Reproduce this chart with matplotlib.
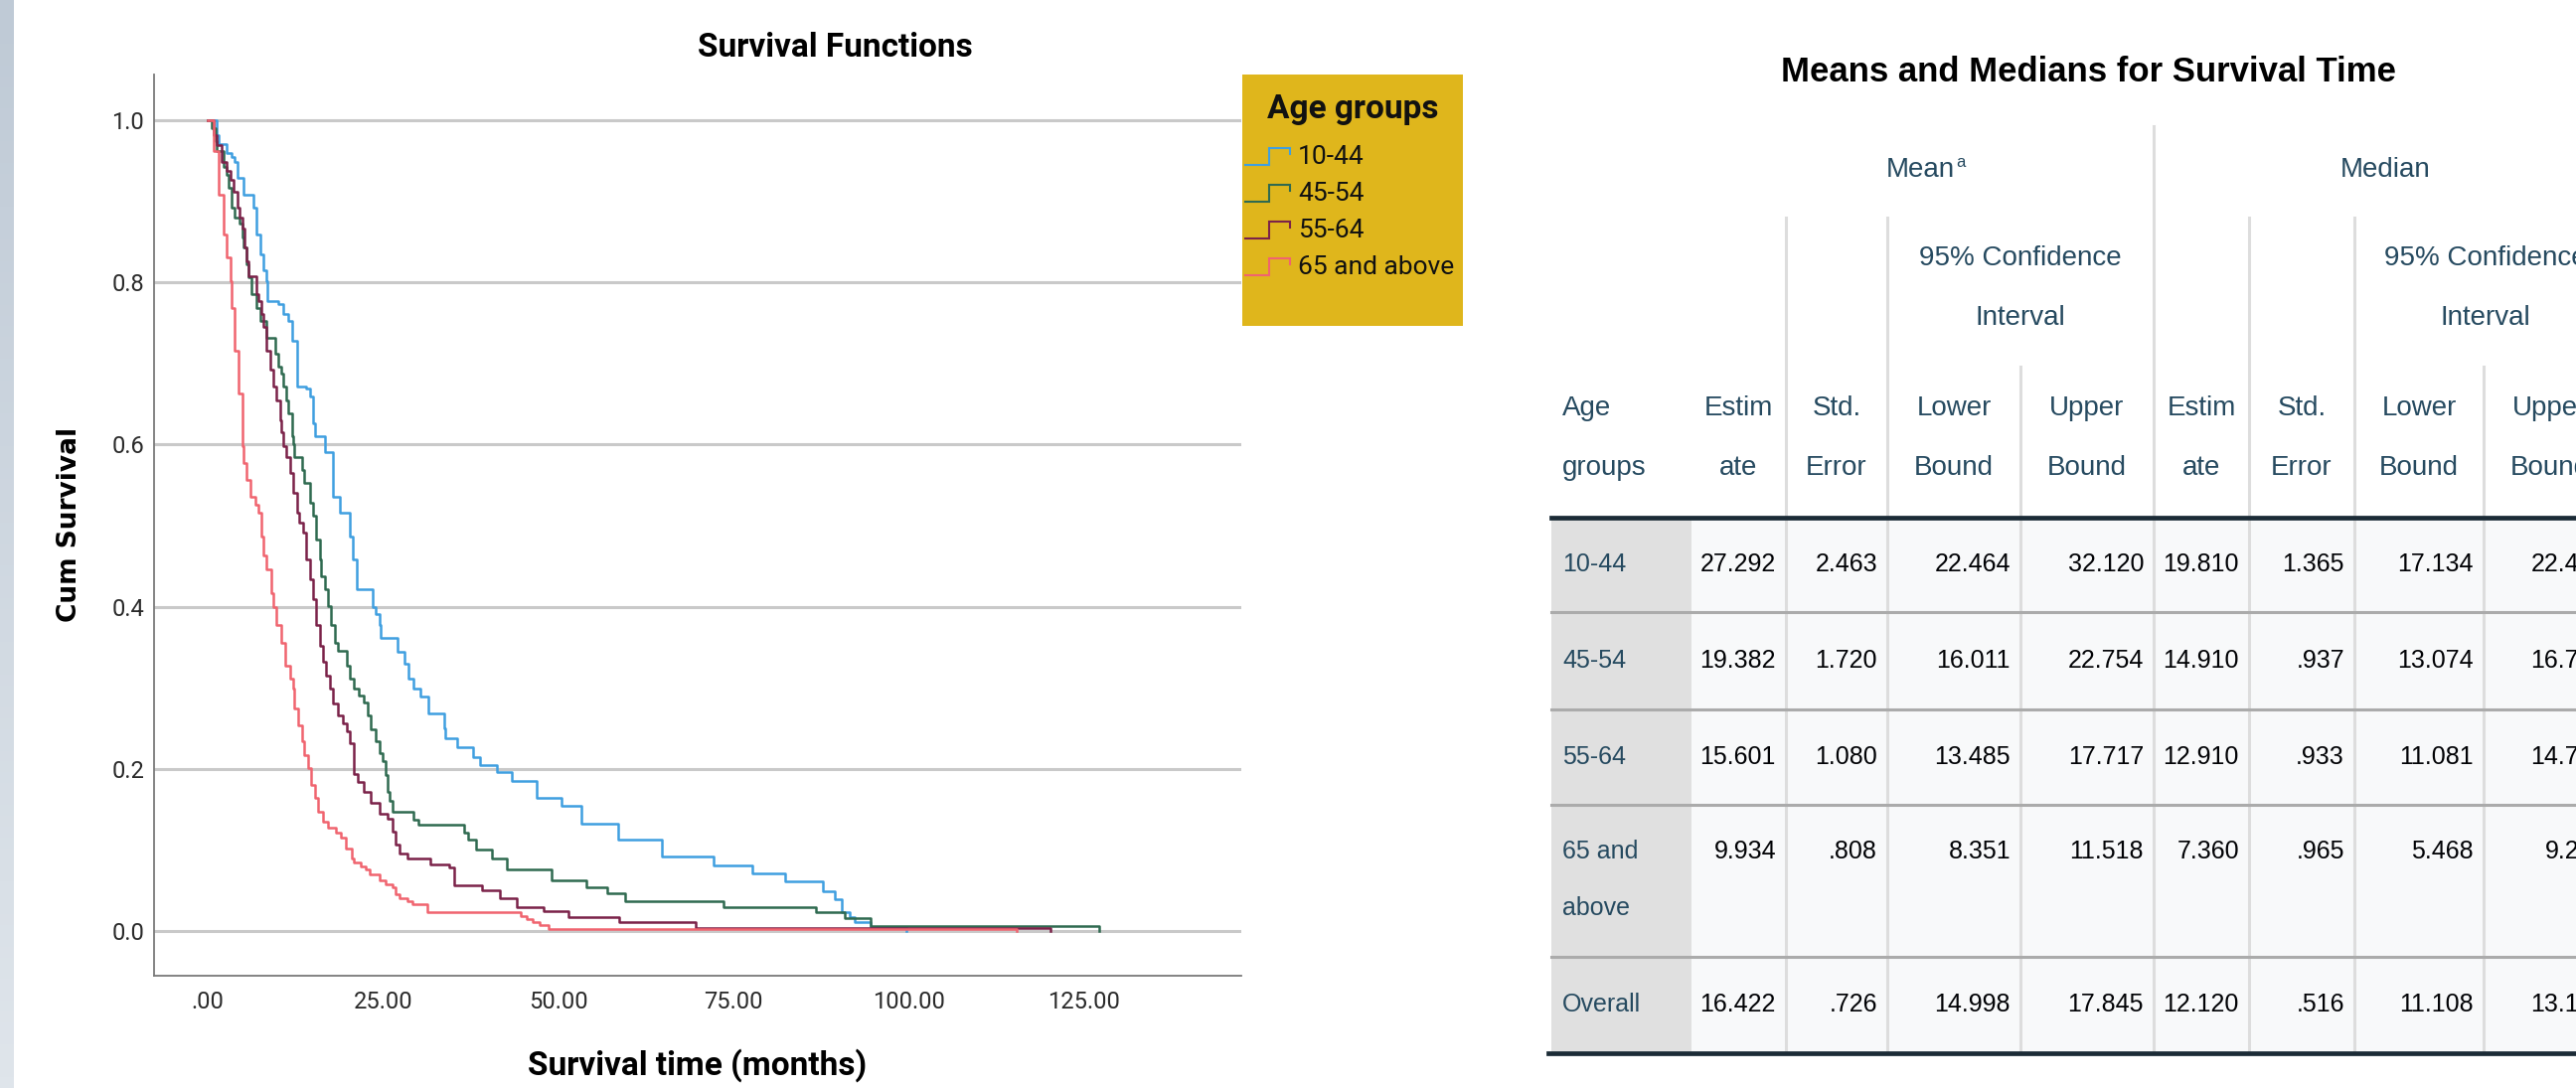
import matplotlib
matplotlib.use("Agg")
import matplotlib.pyplot as plt
import numpy as np
from matplotlib.patches import Rectangle
from matplotlib.colors import LinearSegmentedColormap

CHART_FONT = ['Roboto', 'DejaVu Sans']
ARIAL = ['Liberation Sans', 'DejaVu Sans']

# Kaplan-Meier steps per age group: month of the step and cum survival after it
t_10_44 = [0, 1.3, 1.6, 2.7, 3.45, 3.9, 4.2, 5.1, 6.5, 7.0, 7.5, 7.9, 8.3, 8.5, 10.1,
           10.8, 11.5, 12.0, 12.7, 14.1, 14.6, 15.0, 15.3, 16.7, 17.9, 18.8, 20.2, 20.7,
           21.2, 23.5, 24.0, 24.5, 24.7, 27.1, 28.0, 28.7, 29.4, 30.4, 31.5, 33.7, 33.9,
           35.6, 37.9, 38.9, 41.2, 43.4, 46.9, 50.5, 53.3, 58.5, 64.8, 72.2, 77.6, 82.3,
           87.8, 89.4, 90.4, 91.6, 92.3, 94.6, 99.6]
s_10_44 = [1.0, 0.982, 0.971, 0.960, 0.955, 0.949, 0.929, 0.908, 0.892, 0.859, 0.835, 0.815, 0.802, 0.777, 0.773,
           0.761, 0.753, 0.728, 0.671, 0.669, 0.659, 0.626, 0.610, 0.591, 0.536, 0.516, 0.487, 0.458,
           0.422, 0.399, 0.391, 0.377, 0.362, 0.344, 0.330, 0.311, 0.299, 0.289, 0.268, 0.250, 0.238,
           0.227, 0.215, 0.205, 0.196, 0.185, 0.164, 0.154, 0.133, 0.113, 0.092, 0.081, 0.071, 0.061,
           0.049, 0.039, 0.023, 0.017, 0.011, 0.0055, 0.0]

t_45_54 = [0, 0.6, 1.1, 1.3, 2.3, 2.7, 3.0, 3.45, 3.9, 4.6, 4.9, 5.1, 5.6, 5.8, 6.3,
           7.0, 7.5, 8.4, 9.6, 10.1, 10.5, 10.8, 11.2, 11.5, 12.0, 12.2, 12.4, 13.4, 13.8,
           14.6, 15.0, 15.5, 16.0, 16.2, 16.7, 17.2, 17.6, 18.1, 18.6, 19.8, 20.2, 20.9,
           21.6, 22.3, 22.8, 23.3, 24.0, 24.5, 25.0, 25.4, 25.65, 25.9, 26.4, 29.4, 30.1,
           36.5, 37.2, 38.2, 40.5, 42.7, 49.0, 54.0, 57.0, 59.5, 73.6, 86.8, 90.8, 94.6, 127.2]
s_45_54 = [1.0, 0.990, 0.974, 0.962, 0.943, 0.933, 0.917, 0.892, 0.880, 0.872, 0.855, 0.843, 0.822, 0.806, 0.786,
           0.769, 0.753, 0.732, 0.712, 0.696, 0.687, 0.671, 0.655, 0.638, 0.610, 0.601, 0.585, 0.569, 0.553,
           0.528, 0.512, 0.483, 0.458, 0.438, 0.422, 0.401, 0.377, 0.356, 0.346, 0.327, 0.311, 0.299,
           0.290, 0.282, 0.266, 0.249, 0.234, 0.219, 0.209, 0.193, 0.172, 0.160, 0.147, 0.137, 0.131,
           0.121, 0.113, 0.100, 0.090, 0.076, 0.062, 0.054, 0.047, 0.037, 0.030, 0.023, 0.016, 0.0065, 0.0]

t_55_64 = [0, 0.85, 1.3, 2.0, 2.7, 3.2, 3.7, 4.2, 4.6, 4.9, 5.3, 5.6, 5.8, 7.0, 7.2,
           7.7, 7.9, 8.4, 8.9, 9.35, 9.8, 10.3, 10.5, 10.8, 11.2, 11.7, 12.2, 12.7, 13.1,
           13.6, 14.1, 14.55, 15.0, 15.5, 16.0, 16.4, 16.9, 17.4, 17.9, 18.6, 19.3, 19.8,
           20.2, 20.9, 21.4, 22.3, 23.3, 24.5, 25.6, 26.4, 26.8, 27.3, 28.5, 31.8, 34.4,
           35.1, 39.1, 41.7, 44.1, 47.85, 51.4, 58.7, 69.6, 120.2]
s_55_64 = [1.0, 0.982, 0.970, 0.949, 0.937, 0.927, 0.912, 0.892, 0.880, 0.867, 0.843, 0.826, 0.808, 0.786, 0.777,
           0.761, 0.745, 0.716, 0.692, 0.671, 0.655, 0.630, 0.615, 0.598, 0.585, 0.565, 0.540, 0.516, 0.504,
           0.491, 0.458, 0.434, 0.409, 0.377, 0.352, 0.332, 0.315, 0.299, 0.281, 0.266, 0.256, 0.246,
           0.232, 0.194, 0.184, 0.172, 0.158, 0.145, 0.139, 0.123, 0.107, 0.096, 0.090, 0.082, 0.078,
           0.056, 0.050, 0.041, 0.030, 0.024, 0.017, 0.011, 0.004, 0.0]

t_65_up = [0, 0.85, 1.6, 2.3, 2.7, 3.2, 3.45, 3.9, 4.4, 4.9, 5.1, 5.6, 6.05, 6.8, 7.2,
           7.7, 7.9, 8.4, 9.1, 9.35, 9.8, 10.5, 11.0, 11.7, 12.2, 12.4, 12.9, 13.4, 13.8,
           14.3, 14.8, 15.3, 15.7, 16.4, 17.1, 18.3, 19.0, 19.75, 20.5, 20.9, 21.9, 22.6,
           23.1, 24.5, 25.4, 26.4, 26.8, 27.3, 28.5, 29.2, 31.3, 44.6, 45.5, 46.4, 47.4,
           48.6, 115.4]
s_65_up = [1.0, 0.962, 0.908, 0.859, 0.831, 0.802, 0.769, 0.716, 0.663, 0.598, 0.577, 0.557, 0.536, 0.526, 0.516,
           0.487, 0.463, 0.446, 0.417, 0.399, 0.377, 0.356, 0.327, 0.311, 0.299, 0.274, 0.254, 0.234, 0.217,
           0.201, 0.180, 0.164, 0.147, 0.135, 0.127, 0.121, 0.115, 0.102, 0.090, 0.084, 0.080, 0.076,
           0.070, 0.062, 0.058, 0.054, 0.046, 0.041, 0.037, 0.033, 0.023, 0.019, 0.015, 0.011, 0.008,
           0.003, 0.0]

group_labels = ['10-44', '45-54', '55-64', '65 and above']
group_colors = ['#3f9fe0', '#2f6a50', '#7b2249', '#f0646f']
x_ticks = [0, 25, 50, 75, 100, 125]
y_ticks = [0.0, 0.2, 0.4, 0.6, 0.8, 1.0]

# Means and medians table
row_names = ['10-44', '45-54', '55-64', '65 and\nabove', 'Overall']
mean_est = [27.292, 19.382, 15.601, 9.934, 16.422]
mean_se = [2.463, 1.720, 1.080, .808, .726]
mean_lo = [22.464, 16.011, 13.485, 8.351, 14.998]
mean_hi = [32.120, 22.754, 17.717, 11.518, 17.845]
med_est = [19.810, 14.910, 12.910, 7.360, 12.120]
med_se = [1.365, .937, .933, .965, .516]
med_lo = [17.134, 13.074, 11.081, 5.468, 11.108]
med_hi = [22.486, 16.746, 14.739, 9.252, 13.132]


def spss_num(v, digits=3):
    s = f"{v:.{digits}f}"
    if abs(v) < 1:
        s = s.replace('0.', '.', 1)
    return s


W, H = 2592, 1095
fig = plt.figure(figsize=(W / 100, H / 100), dpi=100)
fig.patch.set_facecolor('white')

# overlay in pixel units (y grows downward)
ov = fig.add_axes([0, 0, 1, 1])
ov.axis('off')

# pale strip on the far left
strip = LinearSegmentedColormap.from_list('strip', ['#bfcad6', '#dfe5eb'])
ov.imshow(np.linspace(0, 1, 100).reshape(-1, 1), cmap=strip, extent=[0, 14, H, 0], aspect='auto')
ov.set_xlim(0, W)
ov.set_ylim(H, 0)

# ---- survival plot ----
ax = fig.add_axes([155 / W, 1 - 982 / H, (1249 - 155) / W, (982 - 75) / H])
ax.set_xlim(-7.65, 147.4)
ax.set_ylim(-0.0551, 1.0564)
for v in y_ticks:
    ax.axhline(v, color='#c9c9c9', lw=2.2, zorder=1)

curves = [(t_10_44, s_10_44), (t_45_54, s_45_54), (t_55_64, s_55_64), (t_65_up, s_65_up)]
for (tt, ss), col in zip(curves, group_colors):
    ax.step(tt, ss, where='post', color=col, lw=1.8, zorder=3)

for side in ['top', 'right']:
    ax.spines[side].set_visible(False)
for side in ['left', 'bottom']:
    ax.spines[side].set_color('#7a7a7a')
    ax.spines[side].set_linewidth(1.3)

ax.set_xticks(x_ticks)
ax.set_xticklabels([spss_num(v, 2) for v in x_ticks])
ax.set_yticks(y_ticks)
ax.set_yticklabels([f"{v:.1f}" for v in y_ticks])
ax.tick_params(axis='both', length=0, labelcolor='#2a2a2a')
ax.tick_params(axis='x', pad=11)
ax.tick_params(axis='y', pad=7)
for lab in ax.get_xticklabels() + ax.get_yticklabels():
    lab.set_family(CHART_FONT)
    lab.set_fontsize(17)

fig.text(840 / W, 1 - 48 / H, 'Survival Functions', family=CHART_FONT, fontweight='bold',
         fontsize=24, ha='center', va='center')
fig.text(702 / W, 1 - 1072 / H, 'Survival time (months)', family=CHART_FONT, fontweight='bold',
         fontsize=24, ha='center', va='center')
fig.text(70 / W, 1 - 528 / H, 'Cum Survival', family=['DejaVu Sans'], fontweight='bold',
         fontsize=19, rotation=90, ha='center', va='center')

# legend box
ov.add_patch(Rectangle((1250, 75), 222, 253, facecolor='#dfb61c', edgecolor='none'))
ov.text(1361, 110, 'Age groups', family=CHART_FONT, fontweight='bold', fontsize=24,
        ha='center', va='center', color='#111111')
for i, (lab, col) in enumerate(zip(group_labels, group_colors)):
    yc = 158 + i * 37
    ov.plot([1253, 1277, 1277, 1298, 1298], [yc + 8, yc + 8, yc - 9, yc - 9, yc - 3],
            color=col, lw=1.5, solid_joinstyle='miter')
    ov.text(1306, yc, lab, family=CHART_FONT, fontsize=19, ha='left', va='center', color='#111111')

# ---- table ----
head_col = '#264a60'
sep_col = '#dddddd'
col_edges = [1561, 1702, 1797, 1899, 2033, 2167, 2263, 2369, 2499, 2633]
row_edges = [521, 616, 714, 810, 963, 1060]

ov.text(2102, 72, 'Means and Medians for Survival Time', family=ARIAL, fontweight='bold',
        fontsize=25, ha='center', va='center', color='black')

for r in range(len(row_names)):
    y0, y1 = row_edges[r], row_edges[r + 1]
    ov.add_patch(Rectangle((col_edges[0], y0), col_edges[1] - col_edges[0], y1 - y0,
                           facecolor='#e0e0e0', edgecolor='none', zorder=1))
    ov.add_patch(Rectangle((col_edges[1], y0), col_edges[-1] - col_edges[1], y1 - y0,
                           facecolor='#f8f9fa', edgecolor='none', zorder=1))

# vertical rules in body and header
for x in col_edges[2:-1]:
    ov.plot([x, x], [521, 1060], color=sep_col, lw=2.2, zorder=2)
for x, top in [(2167, 127), (1797, 219), (1899, 219), (2263, 219), (2369, 219),
               (2033, 369), (2499, 369)]:
    ov.plot([x, x], [top, 521], color=sep_col, lw=2.2, zorder=2)

for y in row_edges[1:-1]:
    ov.plot([1561, W], [y, y], color='#ababab', lw=2.2, zorder=3)
ov.plot([1561, W], [521, 521], color='#1b2b36', lw=3.4, zorder=4)
ov.plot([1558, W], [1060, 1060], color='#1b2b36', lw=3.4, zorder=4)

# header text
hs = 20
ov.text(1967, 171, 'Mean', family=ARIAL, fontsize=hs, ha='right', va='center', color=head_col)
ov.text(1968, 163, 'a', family=ARIAL, fontsize=12, ha='left', va='center', color=head_col)
ov.text(2400, 171, 'Median', family=ARIAL, fontsize=hs, ha='center', va='center', color=head_col)
for xc in [(1899 + 2167) / 2, (2369 + 2633) / 2]:
    ov.text(xc, 260, '95% Confidence', family=ARIAL, fontsize=hs, ha='center', va='center', color=head_col)
    ov.text(xc, 320, 'Interval', family=ARIAL, fontsize=hs, ha='center', va='center', color=head_col)

ov.text(1572, 411, 'Age', family=ARIAL, fontsize=hs, ha='left', va='center', color=head_col)
ov.text(1572, 471, 'groups', family=ARIAL, fontsize=hs, ha='left', va='center', color=head_col)
sub_heads = [('Estim', 'ate'), ('Std.', 'Error'), ('Lower', 'Bound'), ('Upper', 'Bound')] * 2
for i, (a, b) in enumerate(sub_heads):
    xc = (col_edges[i + 1] + col_edges[i + 2]) / 2
    ov.text(xc, 411, a, family=ARIAL, fontsize=hs, ha='center', va='center', color=head_col)
    ov.text(xc, 471, b, family=ARIAL, fontsize=hs, ha='center', va='center', color=head_col)

# body text
ds = 18
text_y = [568, 665, 762, 857, 1011]
columns = [mean_est, mean_se, mean_lo, mean_hi, med_est, med_se, med_lo, med_hi]
for r, name in enumerate(row_names):
    yt = text_y[r]
    if '\n' in name:
        first, second = name.split('\n')
        ov.text(1572, yt, first, family=ARIAL, fontsize=ds, ha='left', va='center', color=head_col)
        ov.text(1572, yt + 57, second, family=ARIAL, fontsize=ds, ha='left', va='center', color=head_col)
    else:
        ov.text(1572, yt, name, family=ARIAL, fontsize=ds, ha='left', va='center', color=head_col)
    for c, vals in enumerate(columns):
        ov.text(col_edges[c + 2] - 10, yt, spss_num(vals[r]), family=ARIAL, fontsize=ds,
                ha='right', va='center', color='#010205', zorder=5)

fig.savefig('out.png', dpi=100)
